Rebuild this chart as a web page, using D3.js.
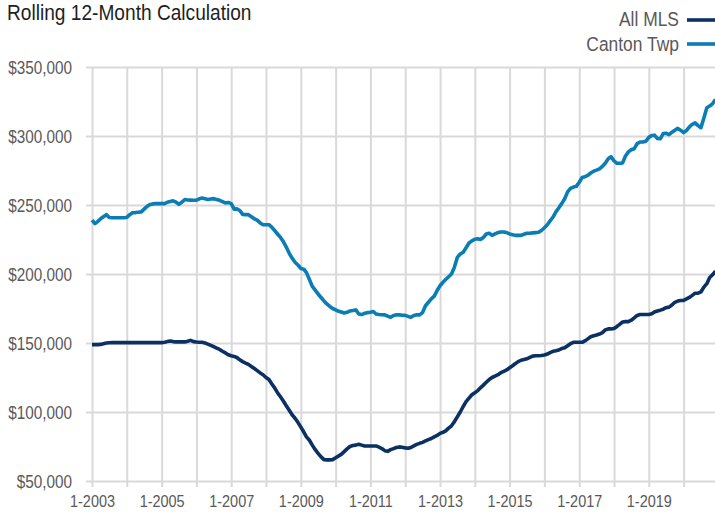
<!DOCTYPE html>
<html>
<head>
<meta charset="utf-8">
<script src="https://cdn.jsdelivr.net/npm/d3@7"></script>
<style>
  html, body { margin: 0; padding: 0; background: #fff; }
  svg { display: block; font-family: "Liberation Sans", Arial, "Helvetica", sans-serif; }
</style>
</head>
<body>
<svg id="chart" width="715" height="515"></svg>
<script>
// ---- Data (monthly, Jan 2003 .. Dec 2020), values in $ thousands ----
const startYear = 2003;
const seriesNames = ["All MLS", "Canton Twp"];
const seriesColors = ["#0b3062", "#0a7db4"];

const allMLS = [
  148.8,148.8,148.8,149.0,149.5,150.0,150.2,150.3,150.3,150.3,150.3,150.3,
  150.3,150.3,150.3,150.3,150.3,150.3,150.3,150.3,150.3,150.3,150.3,150.3,
  150.3,150.5,151.0,151.5,151.0,150.8,150.8,150.8,150.8,151.3,151.9,151.0,
  150.7,150.5,150.5,150.0,149.2,148.3,147.3,146.3,145.3,144.0,142.8,141.5,
  140.8,140.3,139.5,137.8,136.5,135.5,134.5,133.0,131.5,130.0,128.3,127.0,
  125.0,123.5,120.5,117.5,114.0,111.0,108.0,104.5,101.2,98.0,95.5,92.5,
  89.0,85.5,82.0,79.5,76.0,72.7,70.0,67.5,65.5,65.3,65.3,65.5,
  66.8,68.2,69.3,71.3,73.3,75.0,75.7,76.0,76.6,76.0,75.4,75.4,
  75.4,75.4,75.4,74.5,73.5,72.0,71.5,72.7,73.5,74.3,74.7,74.5,
  74.0,73.7,74.3,75.5,76.5,77.3,78.0,79.0,80.0,80.8,82.0,83.0,
  84.5,85.3,86.3,88.3,90.0,93.0,96.5,100.0,104.0,107.5,110.0,112.5,
  114.0,115.5,117.5,119.5,121.5,123.5,125.0,126.0,127.0,128.5,129.5,130.5,
  132.0,133.5,135.0,136.5,137.5,138.0,138.5,139.5,140.5,140.8,140.8,141.0,
  141.3,142.0,143.0,144.0,144.4,145.0,146.0,146.5,148.0,149.5,150.5,150.5,
  150.5,150.5,151.5,153.0,154.5,155.2,155.8,156.5,157.5,159.5,160.2,160.2,
  160.5,162.0,163.5,165.2,165.5,165.5,166.5,168.2,170.0,170.6,170.6,170.6,
  170.6,171.2,172.5,173.2,173.8,174.5,175.6,176.0,177.5,179.5,180.4,180.8,
  180.9,182.0,183.0,184.5,186.1,186.1,187.0,190.5,193.0,197.5,199.5,202.0
];

const cantonTwp = [
  239.0,236.5,238.0,240.0,241.5,243.0,241.0,240.8,240.8,240.8,240.8,240.8,
  241.0,243.0,244.4,244.5,244.8,245.0,247.0,249.0,250.3,250.8,251.0,251.0,
  251.0,251.0,252.0,252.5,253.0,252.0,250.5,252.0,254.0,253.6,253.5,253.4,
  253.5,254.5,255.0,254.5,254.0,254.3,254.6,254.0,253.4,252.5,251.5,251.8,
  251.0,247.0,247.2,246.0,243.2,243.0,243.0,241.5,240.0,239.0,237.0,235.7,
  235.7,235.7,234.0,231.5,229.0,226.5,223.5,219.5,215.0,211.5,208.5,206.5,
  204.0,203.5,201.0,196.0,191.0,188.3,185.5,183.0,180.5,178.3,176.5,175.0,
  174.0,173.0,172.5,171.7,172.2,173.2,173.5,174.0,171.0,170.6,171.5,172.0,
  172.3,172.8,171.0,170.6,170.5,170.4,169.5,168.6,170.0,170.4,170.4,170.1,
  170.0,169.3,168.6,170.0,170.4,170.4,172.0,177.0,179.5,182.0,184.0,188.0,
  191.5,194.0,196.0,198.0,200.0,205.0,212.0,214.5,215.8,219.0,222.5,224.0,
  225.2,225.6,225.0,226.5,229.0,229.5,228.0,229.0,230.0,230.4,230.4,230.0,
  229.0,228.4,228.0,228.0,228.0,228.8,229.5,229.5,229.8,230.0,230.2,231.5,
  233.5,235.7,238.5,241.3,245.0,248.0,251.0,254.5,259.5,262.0,263.0,263.5,
  266.5,269.9,270.5,271.5,273.2,274.5,275.3,276.2,278.0,280.3,283.5,285.0,
  282.0,280.2,280.2,280.5,285.5,288.5,290.0,290.8,294.5,295.7,295.7,296.2,
  299.0,300.4,300.6,298.2,298.0,301.8,302.0,301.0,302.8,304.2,305.5,304.2,
  302.5,304.0,306.5,308.5,309.5,307.5,306.0,313.0,320.5,321.7,323.5,326.5
];

const yTicks = [50000, 100000, 150000, 200000, 250000, 300000, 350000];
const xLabelYears = [2003, 2005, 2007, 2009, 2011, 2013, 2015, 2017, 2019];
const title = "Rolling 12-Month Calculation";

// ---- Chart ----
const svg = d3.select("#chart");
const plotLeft = 92, plotRight = 715.5, plotTop = 67, plotBottom = 481;
const condense = 0.85; // simulate a condensed typeface

function narrow(sel) {
  sel.each(function () {
    const len = this.getComputedTextLength();
    if (len > 0) {
      d3.select(this).attr("textLength", len * condense).attr("lengthAdjust", "spacingAndGlyphs");
    }
  });
}

const dates = allMLS.map((_, i) => new Date(startYear, i, 1));
const x = d3.scaleTime()
  .domain([new Date(startYear, 0, 1), new Date(startYear, allMLS.length - 1, 1)])
  .range([plotLeft, plotRight]);
const y = d3.scaleLinear().domain([50000, 350000]).range([plotBottom, plotTop]);

const gridColor = "#d9d9d9";
const textColor = "#595959";

// Y axis with gridlines
const yAxis = svg.append("g")
  .attr("transform", `translate(86,0)`)
  .call(d3.axisLeft(y).tickValues(yTicks).tickSize(-(715 - 86)).tickPadding(14)
    .tickFormat(d => "$" + d3.format(",")(d)));
yAxis.select(".domain").remove();
yAxis.selectAll("line").attr("stroke", gridColor).attr("stroke-width", 2);
yAxis.selectAll("text").attr("fill", textColor).attr("font-family", null)
  .style("font-size", "18px").attr("dy", "0.35em").call(narrow);

// X axis with yearly gridlines
const yearTicks = d3.range(startYear, 2021).map(yr => new Date(yr, 0, 1));
const xAxis = svg.append("g")
  .attr("transform", `translate(0,487)`)
  .call(d3.axisBottom(x).tickValues(yearTicks).tickSize(-(487 - plotTop)).tickPadding(8)
    .tickFormat(d => xLabelYears.includes(d.getFullYear()) ? "1-" + d.getFullYear() : ""));
xAxis.select(".domain").remove();
xAxis.selectAll("line").attr("stroke", gridColor).attr("stroke-width", 2);
xAxis.selectAll("text").attr("fill", textColor).attr("font-family", null)
  .style("font-size", "17px").call(narrow);

// Lines
svg.append("clipPath").attr("id", "clip")
  .append("rect").attr("x", 0).attr("y", 0).attr("width", 715).attr("height", 515);

const line = d3.line()
  .x((d, i) => x(dates[i]))
  .y(d => y(d * 1000));

[allMLS, cantonTwp].forEach((vals, k) => {
  svg.append("path")
    .datum(vals)
    .attr("clip-path", "url(#clip)")
    .attr("fill", "none")
    .attr("stroke", seriesColors[k])
    .attr("stroke-width", 3.6)
    .attr("stroke-linejoin", "round")
    .attr("stroke-linecap", "butt")
    .attr("d", line);
});

// Title
svg.append("text")
  .attr("x", 7).attr("y", 20)
  .attr("fill", "#1e1e1e")
  .style("font-size", "22.5px")
  .text(title)
  .call(narrow);

// Legend
const legendBase = [26, 51];
const legendLineY = [20, 44];
seriesNames.forEach((name, k) => {
  svg.append("text")
    .attr("x", 679).attr("y", legendBase[k])
    .attr("text-anchor", "end")
    .attr("fill", textColor)
    .style("font-size", "20.5px")
    .text(name)
    .call(narrow);
  svg.append("line")
    .attr("x1", 687).attr("x2", 715)
    .attr("y1", legendLineY[k]).attr("y2", legendLineY[k])
    .attr("stroke", seriesColors[k])
    .attr("stroke-width", 3.6);
});
</script>
</body>
</html>
